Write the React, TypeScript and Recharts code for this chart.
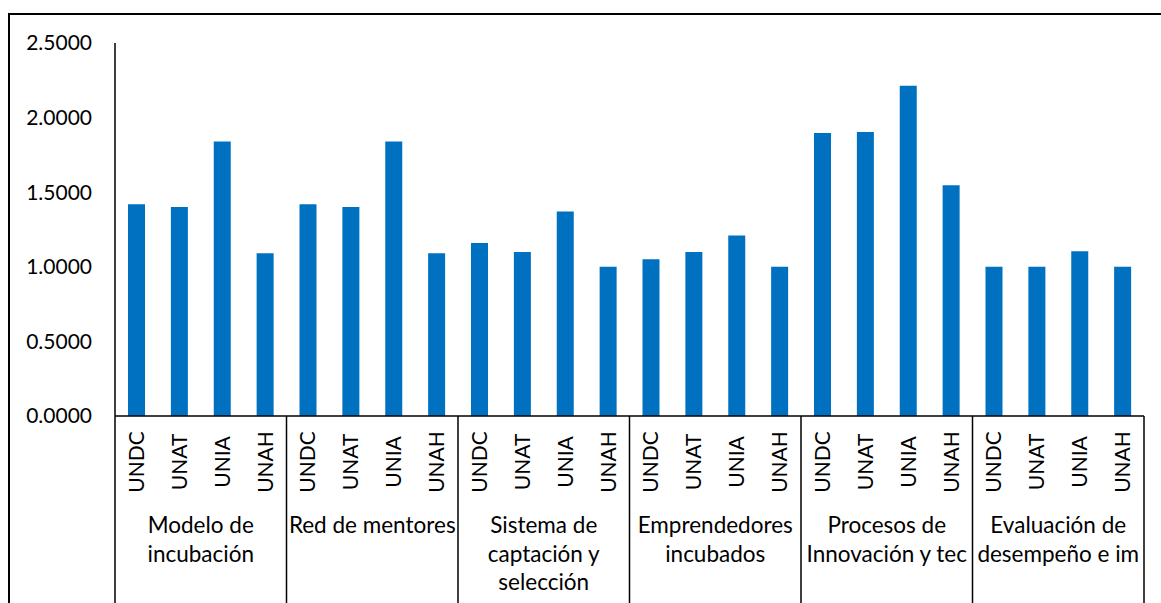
import React from 'react';
import { BarChart, Bar, XAxis, YAxis } from 'recharts';

// Universities compared inside every dimension
const universities = ['UNDC', 'UNAT', 'UNIA', 'UNAH'];

// Evaluated dimensions (label lines as shown under the axis)
const dimensions = [
  ['Modelo de', 'incubación'],
  ['Red de mentores'],
  ['Sistema de', 'captación y', 'selección'],
  ['Emprendedores', 'incubados'],
  ['Procesos de', 'Innovación y tec'],
  ['Evaluación de', 'desempeño e im'],
];

// Scores per dimension, ordered as in `universities`
const modeloIncubacion = [1.42, 1.4, 1.84, 1.09];
const redMentores = [1.42, 1.4, 1.84, 1.09];
const sistemaCaptacion = [1.16, 1.1, 1.37, 1.0];
const emprendedoresIncubados = [1.05, 1.1, 1.21, 1.0];
const procesosInnovacion = [1.896, 1.903, 2.213, 1.547];
const evaluacionDesempeno = [1.0, 1.0, 1.105, 1.0];

const yTicks = [0, 0.5, 1, 1.5, 2, 2.5];

const seriesByDimension = [
  modeloIncubacion,
  redMentores,
  sistemaCaptacion,
  emprendedoresIncubados,
  procesosInnovacion,
  evaluacionDesempeno,
];

const data = seriesByDimension.flatMap((values, g) =>
  universities.map((u, i) => ({ id: `${g}-${u}`, uni: u, group: g, value: values[i] }))
);

const WIDTH = 1161;
const HEIGHT = 603;
const MARGIN = { top: 43, right: 17, left: 0, bottom: 0 };
const Y_AXIS_W = 115;
const X_AXIS_H = 187;
const PLOT_W = WIDTH - MARGIN.left - MARGIN.right - Y_AXIS_W;
const FONT = 'Lato, "Open Sans", sans-serif';
const FONT_SIZE = 21;
const GROUP_FONT_SIZE = 22.5;
const LINE_H = 28.7;

const CategoryTick = (props: any) => {
  const { x, y, payload } = props;
  const index: number = payload.index;
  const row = data[index];
  const half = payload.offset > 0 ? payload.offset : PLOT_W / data.length / 2;
  const band = half * 2;
  const perGroup = universities.length;
  const isFirst = index % perGroup === 0;
  const isLast = index === data.length - 1;
  const bottom = HEIGHT;
  const groupCenter = x - half + (band * perGroup) / 2;
  const lines = dimensions[row.group];
  return (
    <g>
      <text
        transform={`translate(${x + 7.5}, ${y + 46}) rotate(-90)`}
        textAnchor="middle"
        fontFamily={FONT}
        fontSize={FONT_SIZE}
        fill="#000"
      >
        {row.uni}
      </text>
      {isFirst && (
        <line x1={x - half} x2={x - half} y1={y} y2={bottom} stroke="#000" strokeWidth={1.5} />
      )}
      {isLast && (
        <line x1={x + half} x2={x + half} y1={y} y2={bottom} stroke="#000" strokeWidth={1.5} />
      )}
      {isFirst && (
        <text
          x={groupCenter}
          y={y + 117}
          textAnchor="middle"
          fontFamily={FONT}
          fontSize={GROUP_FONT_SIZE}
          fill="#000"
        >
          {lines.map((l, k) => (
            <tspan key={k} x={groupCenter} dy={k === 0 ? 0 : LINE_H}>
              {l}
            </tspan>
          ))}
        </text>
      )}
    </g>
  );
};

export default function App() {
  return (
    <div
      style={{
        position: 'fixed',
        left: 0,
        top: 0,
        width: WIDTH,
        height: HEIGHT,
        overflow: 'hidden',
        background: '#fff',
      }}
    >
      <div
        style={{
          position: 'absolute',
          left: 8,
          top: 13,
          width: WIDTH,
          height: HEIGHT,
          borderTop: '2px solid #000',
          borderLeft: '2px solid #000',
          boxSizing: 'border-box',
          pointerEvents: 'none',
        }}
      />
      <div style={{ position: 'absolute', left: 0, top: 0 }}>
        <BarChart width={WIDTH} height={HEIGHT} data={data} margin={MARGIN}>
          <YAxis
            width={Y_AXIS_W}
            domain={[0, 2.5]}
            ticks={yTicks}
            tickFormatter={(v: number) => v.toFixed(4)}
            tickLine={false}
            tickSize={0}
            tickMargin={23}
            axisLine={{ stroke: '#000', strokeWidth: 1.5 }}
            tick={{ fill: '#000', fontFamily: FONT, fontSize: FONT_SIZE }}
          />
          <XAxis
            dataKey="id"
            height={X_AXIS_H}
            interval={0}
            tickLine={false}
            tickSize={0}
            tickMargin={0}
            axisLine={{ stroke: '#000', strokeWidth: 1.5 }}
            tick={<CategoryTick />}
          />
          <Bar dataKey="value" fill="#0070C0" barSize={17} isAnimationActive={false} />
        </BarChart>
      </div>
    </div>
  );
}
